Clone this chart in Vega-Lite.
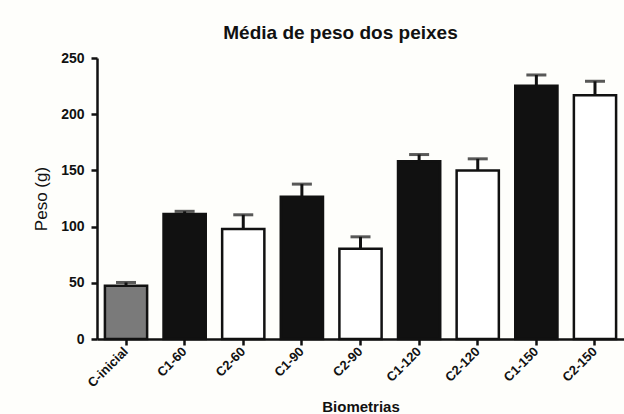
{
  "$schema": "https://vega.github.io/schema/vega-lite/v6.json",
  "width": 527,
  "height": 281,
  "autosize": "none",
  "padding": {"left": 97, "top": 58, "right": 0, "bottom": 75},
  "background": "#fefefb",
  "title": {
    "text": "Média de peso dos peixes",
    "font": "Liberation Sans",
    "fontSize": 19,
    "fontWeight": "bold",
    "color": "#111111",
    "anchor": "middle",
    "dx": -20,
    "offset": 8
  },
  "config": {
    "view": {"stroke": null},
    "font": "Liberation Sans"
  },
  "data": {
    "values": [
      {"grupo": "C-inicial", "tipo": "inicial", "peso": 47.4, "erro": 50.3},
      {"grupo": "C1-60", "tipo": "C1", "peso": 111.1, "erro": 113.6},
      {"grupo": "C2-60", "tipo": "C2", "peso": 97.8, "erro": 110.5},
      {"grupo": "C1-90", "tipo": "C1", "peso": 126.5, "erro": 137.8},
      {"grupo": "C2-90", "tipo": "C2", "peso": 80.3, "erro": 90.9},
      {"grupo": "C1-120", "tipo": "C1", "peso": 158.2, "erro": 164.1},
      {"grupo": "C2-120", "tipo": "C2", "peso": 149.9, "erro": 160.3},
      {"grupo": "C1-150", "tipo": "C1", "peso": 225.4, "erro": 234.9},
      {"grupo": "C2-150", "tipo": "C2", "peso": 216.9, "erro": 229.3}
    ]
  },
  "encoding": {
    "x": {
      "field": "grupo",
      "type": "nominal",
      "sort": null,
      "scale": {"paddingInner": 0.28, "paddingOuter": 0.135},
      "axis": {
        "title": "Biometrias",
        "titleFont": "Liberation Sans",
        "titleFontSize": 15,
        "titleFontWeight": "bold",
        "titleColor": "#111111",
        "titlePadding": 10,
        "labelAngle": -45,
        "labelAlign": "right",
        "labelBaseline": "middle",
        "labelFont": "Liberation Sans",
        "labelFontSize": 13,
        "labelFontWeight": "bold",
        "labelColor": "#111111",
        "labelPadding": 4,
        "domainColor": "#111111",
        "domainWidth": 2.5,
        "tickColor": "#111111",
        "tickWidth": 2.5,
        "tickSize": 6
      }
    }
  },
  "layer": [
    {
      "mark": {"type": "rule", "strokeWidth": 3, "color": "#111111"},
      "encoding": {
        "y": {"field": "peso", "type": "quantitative"},
        "y2": {"field": "erro"}
      }
    },
    {
      "mark": {"type": "tick", "thickness": 3, "size": 20, "color": "#111111"},
      "encoding": {
        "y": {"field": "erro", "type": "quantitative"}
      }
    },
    {
      "mark": {"type": "bar", "stroke": "#111111", "strokeWidth": 2.5},
      "encoding": {
        "y": {
          "field": "peso",
          "type": "quantitative",
          "scale": {"domain": [0, 250], "nice": false},
          "axis": {
            "title": "Peso (g)",
            "titleFont": "Liberation Sans",
            "titleFontSize": 17,
            "titleFontWeight": "normal",
            "titleColor": "#111111",
            "titlePadding": 10,
            "values": [0, 50, 100, 150, 200, 250],
            "grid": false,
            "labelFont": "Liberation Sans",
            "labelFontSize": 14,
            "labelFontWeight": "bold",
            "labelColor": "#111111",
            "labelPadding": 7,
            "domainColor": "#111111",
            "domainWidth": 2.5,
            "tickColor": "#111111",
            "tickWidth": 2.5,
            "tickSize": 6
          }
        },
        "fill": {
          "field": "tipo",
          "type": "nominal",
          "scale": {"domain": ["inicial", "C1", "C2"], "range": ["#7a7a7a", "#111111", "#ffffff"]},
          "legend": null
        }
      }
    }
  ]
}
